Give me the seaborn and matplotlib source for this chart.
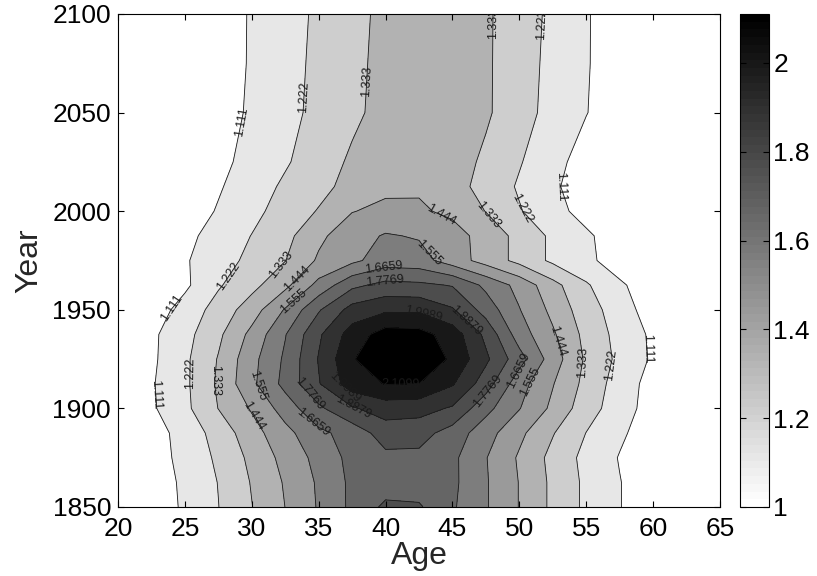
import numpy as np
import matplotlib
matplotlib.use('Agg')
import matplotlib.pyplot as plt
import seaborn as sns
from matplotlib.colors import ListedColormap, Normalize
from matplotlib.cm import ScalarMappable

# grid: ages every 2.5, years every 12.5 (then 25)
ages = [20, 22.5, 25, 27.5, 30, 32.5, 35, 37.5, 40, 42.5,
        45, 47.5, 50, 52.5, 55, 57.5, 60, 62.5, 65]
years = [1850, 1862.5, 1875, 1887.5, 1900, 1912.5, 1925, 1937.5, 1950,
         1962.5, 1975, 1987.5, 2000, 2012.5, 2025, 2050, 2075, 2100]

z1850 = [1.00, 1.035, 1.13, 1.22, 1.33, 1.445, 1.565, 1.69, 1.80, 1.79, 1.68, 1.565, 1.44, 1.31, 1.20, 1.115, 1.04, 1.00, 1.00]
z1862 = [1.00, 1.04, 1.135, 1.225, 1.34, 1.455, 1.57, 1.69, 1.72, 1.72, 1.69, 1.565, 1.44, 1.31, 1.20, 1.115, 1.04, 1.00, 1.00]
z1875 = [1.00, 1.05, 1.15, 1.24, 1.36, 1.48, 1.59, 1.70, 1.75, 1.75, 1.69, 1.56, 1.43, 1.30, 1.19, 1.105, 1.03, 1.00, 1.00]
z1887 = [1.00, 1.06, 1.155, 1.265, 1.40, 1.52, 1.64, 1.71, 1.83, 1.82, 1.73, 1.60, 1.47, 1.34, 1.22, 1.13, 1.05, 1.00, 1.00]
z1900 = [1.00, 1.095, 1.195, 1.335, 1.455, 1.605, 1.755, 1.875, 1.94, 1.93, 1.875, 1.70, 1.56, 1.42, 1.27, 1.165, 1.06, 1.00, 1.00]
z1912 = [1.00, 1.10, 1.20, 1.35, 1.53, 1.70, 1.88, 2.06, 2.115, 2.11, 2.01, 1.83, 1.60, 1.45, 1.30, 1.17, 1.07, 1.00, 1.00]
z1925 = [1.00, 1.09, 1.20, 1.34, 1.52, 1.685, 1.895, 2.10, 2.20, 2.20, 2.09, 1.91, 1.71, 1.50, 1.315, 1.195, 1.095, 1.02, 1.00]
z1937 = [1.00, 1.09, 1.185, 1.31, 1.475, 1.66, 1.87, 2.05, 2.16, 2.15, 2.06, 1.86, 1.61, 1.46, 1.30, 1.185, 1.09, 1.02, 1.00]
z1950 = [1.00, 1.05, 1.155, 1.265, 1.39, 1.565, 1.765, 1.93, 1.98, 1.98, 1.90, 1.73, 1.56, 1.415, 1.27, 1.17, 1.05, 1.00, 1.00]
z1962 = [1.00, 1.00, 1.09, 1.21, 1.30, 1.415, 1.59, 1.75, 1.81, 1.80, 1.77, 1.64, 1.52, 1.37, 1.235, 1.13, 1.04, 1.00, 1.00]
z1975 = [1.00, 1.00, 1.10, 1.175, 1.25, 1.33, 1.46, 1.53, 1.61, 1.60, 1.50, 1.40, 1.30, 1.20, 1.14, 1.05, 1.00, 1.00, 1.00]
z1987 = [1.00, 1.00, 1.085, 1.15, 1.225, 1.30, 1.42, 1.51, 1.565, 1.545, 1.49, 1.40, 1.30, 1.20, 1.13, 1.05, 1.00, 1.00, 1.00]
z2000 = [1.00, 1.00, 1.05, 1.12, 1.19, 1.27, 1.34, 1.44, 1.47, 1.46, 1.42, 1.33, 1.23, 1.15, 1.07, 1.00, 1.00, 1.00, 1.00]
z2012 = [1.00, 1.00, 1.03, 1.10, 1.17, 1.24, 1.30, 1.37, 1.42, 1.43, 1.38, 1.29, 1.21, 1.13, 1.05, 1.00, 1.00, 1.00, 1.00]
z2025 = [1.00, 1.00, 1.02, 1.08, 1.15, 1.21, 1.28, 1.35, 1.40, 1.42, 1.39, 1.31, 1.23, 1.15, 1.06, 1.00, 1.00, 1.00, 1.00]
z2050 = [1.00, 1.00, 1.00, 1.07, 1.125, 1.19, 1.25, 1.31, 1.37, 1.40, 1.39, 1.35, 1.26, 1.19, 1.115, 1.04, 1.00, 1.00, 1.00]
z2075 = [1.00, 1.00, 1.00, 1.065, 1.12, 1.185, 1.245, 1.305, 1.365, 1.40, 1.40, 1.35, 1.265, 1.195, 1.12, 1.045, 1.00, 1.00, 1.00]
z2100 = [1.00, 1.00, 1.00, 1.06, 1.12, 1.18, 1.24, 1.30, 1.36, 1.40, 1.40, 1.35, 1.27, 1.20, 1.12, 1.05, 1.00, 1.00, 1.00]

levels = [1.0, 1.111, 1.222, 1.333, 1.444, 1.555, 1.6659, 1.7769, 1.8879, 1.9989, 2.1099, 2.4]
level_labels = ['1.111', '1.222', '1.333', '1.444', '1.555',
                '1.6659', '1.7769', '1.8879', '1.9989', '2.1099']
cbar_ticks = [1, 1.2, 1.4, 1.6, 1.8, 2]

# where the contour labels sit (age, year), roughly as in the original
label_spots = [
    (23.8, 1952), (23.0, 1907), (29.3, 2045), (53.0, 2012), (59.3, 1930),
    (28.4, 1966), (25.4, 1918), (34.0, 2058), (50.8, 2003), (56.8, 1922), (51.6, 2095),
    (32.0, 1974), (27.4, 1914), (38.8, 2066), (48.0, 2000), (54.8, 1923), (48.1, 2095),
    (33.6, 1964), (30.1, 1896), (44.0, 1996), (53.3, 1935),
    (33.0, 1955), (30.8, 1913), (43.3, 1979), (51.0, 1913),
    (40.0, 1968), (34.6, 1893), (50.0, 1919),
    (40.0, 1964), (34.4, 1908), (47.6, 1909),
    (45.8, 1943), (37.6, 1901),
    (42.8, 1948), (37.3, 1914),
    (41.1, 1912),
]

Z = np.array([z1850, z1862, z1875, z1887, z1900, z1912, z1925, z1937, z1950,
              z1962, z1975, z1987, z2000, z2012, z2025, z2050, z2075, z2100])

sns.set_theme(style="ticks", rc={
    'axes.linewidth': 0.8, 'axes.edgecolor': 'black', 'axes.axisbelow': False,
    'xtick.direction': 'in', 'ytick.direction': 'in',
    'xtick.top': True, 'ytick.right': True,
    'xtick.major.size': 4, 'ytick.major.size': 4,
    'xtick.major.width': 0.8, 'ytick.major.width': 0.8,
    'xtick.color': 'black', 'ytick.color': 'black',
})
plt.rcParams['font.family'] = ['Liberation Sans', 'DejaVu Sans']

fig = plt.figure(figsize=(8.17, 5.76), dpi=100)
ax = fig.add_axes([0.1444, 0.1198, 0.7369, 0.8559])
cax = fig.add_axes([0.9057, 0.1198, 0.0355, 0.8559])

# flipped 64-step gray map, band coloured by its lower level (matlab style)
cmap = ListedColormap(np.repeat(np.linspace(1, 0, 64)[:, None], 3, axis=1))
norm = Normalize(1.0, 2.11)
band_colors = [cmap(norm(lv)) for lv in levels[:-1]]

ax.contourf(ages, years, Z, levels=levels, colors=band_colors, zorder=0)
cs = ax.contour(ages, years, Z, levels=levels[1:-1], colors='k',
                linewidths=0.6, zorder=1)
ax.clabel(cs, fmt=dict(zip(levels[1:-1], level_labels)), inline=False,
          fontsize=9, manual=label_spots)
ax.set_axisbelow(False)

ax.set_xlim(20, 65)
ax.set_ylim(1850, 2100)
ax.set_xticks(np.arange(20, 66, 5))
ax.set_yticks(np.arange(1850, 2101, 50))
ax.tick_params(labelsize=19, labelcolor='black')
ax.tick_params(axis='x', pad=7)
ax.tick_params(axis='y', pad=5)
ax.set_xlabel('Age', fontsize=23, labelpad=0)
ax.set_ylabel('Year', fontsize=23, labelpad=6)

cb = fig.colorbar(ScalarMappable(norm=norm, cmap=cmap), cax=cax, ticks=cbar_ticks)
cb.ax.set_axisbelow(False)
cb.ax.set_yticklabels([f'{t:g}' for t in cbar_ticks])
cb.ax.tick_params(direction='in', left=True, right=True, length=4, width=0.8,
                  color='black', labelsize=19, labelcolor='black', pad=3)
cb.outline.set_linewidth(0.8)

fig.savefig('out.png', dpi=100)
